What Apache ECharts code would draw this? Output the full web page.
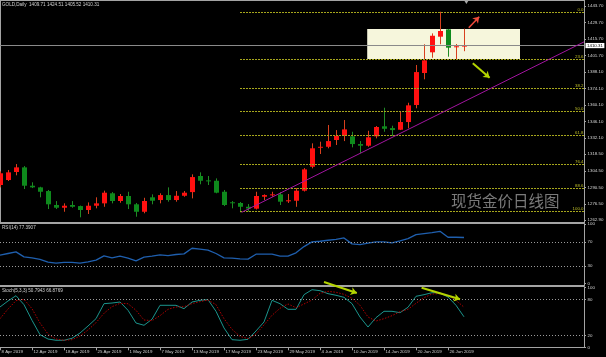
<!DOCTYPE html>
<html><head><meta charset="utf-8">
<script src="https://cdn.jsdelivr.net/npm/echarts@6/dist/echarts.min.js"></script>
<style>html,body{margin:0;padding:0;background:#000;}#c{width:606px;height:357px;}</style>
</head><body><div id="c"></div>
<script>
const dates = ['8 Apr 2019','9 Apr 2019','10 Apr 2019','11 Apr 2019','12 Apr 2019','15 Apr 2019','16 Apr 2019','17 Apr 2019','18 Apr 2019','22 Apr 2019','23 Apr 2019','24 Apr 2019','25 Apr 2019','26 Apr 2019','29 Apr 2019','30 Apr 2019','1 May 2019','2 May 2019','3 May 2019','6 May 2019','7 May 2019','8 May 2019','9 May 2019','10 May 2019','13 May 2019','14 May 2019','15 May 2019','16 May 2019','17 May 2019','20 May 2019','21 May 2019','22 May 2019','23 May 2019','24 May 2019','27 May 2019','28 May 2019','29 May 2019','30 May 2019','31 May 2019','3 Jun 2019','4 Jun 2019','5 Jun 2019','6 Jun 2019','7 Jun 2019','10 Jun 2019','11 Jun 2019','12 Jun 2019','13 Jun 2019','14 Jun 2019','17 Jun 2019','18 Jun 2019','19 Jun 2019','20 Jun 2019','21 Jun 2019','24 Jun 2019','25 Jun 2019','26 Jun 2019','27 Jun 2019','28 Jun 2019'];
const opens  = [1292.5,1296.7,1303.5,1307.4,1291.9,1290.5,1287.4,1275.6,1273.3,1275.6,1274.7,1271.4,1275.0,1277.0,1285.5,1279.0,1283.2,1276.2,1269.9,1282.1,1279.8,1284.0,1279.8,1283.4,1286.5,1300.1,1296.4,1296.1,1286.8,1277.9,1277.3,1274.1,1272.5,1282.6,1284.0,1284.6,1278.7,1279.2,1287.7,1307.9,1324.2,1324.8,1330.5,1334.7,1333.6,1327.1,1325.7,1333.6,1342.1,1340.6,1339.2,1345.7,1360.1,1387.1,1404.6,1417.8,1424.0,1409.6,1409.71];
const closes = [1302.4,1303.2,1307.4,1291.9,1290.5,1286.8,1276.2,1273.3,1275.0,1274.1,1271.4,1275.0,1277.0,1286.0,1279.0,1283.2,1276.2,1269.9,1279.0,1279.2,1284.0,1279.8,1283.4,1286.0,1299.2,1296.1,1296.1,1286.0,1275.6,1277.3,1274.1,1272.6,1283.2,1284.0,1284.6,1278.4,1279.6,1287.7,1305.7,1323.5,1324.8,1329.6,1334.1,1339.5,1327.1,1325.7,1332.8,1341.5,1340.0,1338.9,1345.7,1359.8,1387.9,1397.8,1418.6,1422.6,1408.5,1409.7,1410.31];
const lows   = [1290.5,1295.9,1300.7,1289.1,1289.9,1282.1,1272.2,1272.2,1269.9,1273.3,1265.2,1268.0,1272.8,1274.1,1277.0,1277.5,1272.2,1265.7,1268.6,1276.2,1277.0,1278.4,1278.4,1282.6,1281.2,1293.1,1292.5,1285.5,1274.7,1272.8,1269.4,1270.1,1271.8,1279.8,1282.6,1275.6,1277.3,1274.1,1287.0,1306.6,1318.7,1323.5,1326.3,1329.6,1324.3,1319.3,1324.8,1331.9,1337.5,1333.9,1338.9,1340.4,1357.3,1381.8,1400.0,1411.4,1400.9,1398.7,1405.52];
const highs  = [1304.0,1305.2,1310.2,1308.5,1294.8,1291.0,1288.3,1278.9,1277.0,1278.9,1275.1,1277.8,1282.1,1287.7,1286.5,1284.9,1286.8,1277.3,1281.7,1284.6,1285.5,1290.5,1287.4,1287.4,1301.5,1303.2,1300.1,1298.1,1288.3,1278.9,1278.1,1276.4,1286.8,1284.6,1286.8,1286.5,1284.9,1289.9,1306.8,1327.7,1329.1,1343.2,1338.9,1347.4,1337.5,1329.6,1338.3,1342.3,1357.8,1342.6,1354.4,1362.0,1393.9,1411.4,1420.6,1438.9,1424.3,1411.6,1424.51];
const rsi = [47.8,50.6,53.3,45,43.3,40.6,36.1,34.4,35.6,35.6,34.4,36.7,39.4,46.7,43.3,46.1,42.8,38.3,44.4,46.1,48.3,47.2,48.9,50,59.4,57.8,56.1,50.6,43.3,42.8,41.7,41.1,49.4,49.4,49.4,46.1,46.1,51.7,62.2,70,71.1,72.8,74.4,76.7,66.7,65.6,67.8,70,70,68.3,71.7,75.6,82.2,83.9,85.6,87.8,77.8,77.8,77.39];
const stochK = [67.2,77.2,86,71,45,21,13.8,11.7,11.7,15,23.8,35.5,47.7,72.7,73.8,75.5,61.7,40.5,36.7,46.7,70,70,70,64.4,75.5,78.3,79.4,60,32.2,12.7,11.7,13.3,27.2,42.2,78.3,72.7,63.3,63.3,87.7,96,94.4,89.4,86.7,83.3,72.7,50.5,33.8,49.4,60,60,57.7,66.7,85,87.7,91,90.5,83.8,70,50.79];
const stochD = [47.7,63.8,77.7,80,64.4,40.5,22.2,13.8,11.7,12.7,18.8,28.8,41,56.7,67.7,73.3,72.7,61.7,45.5,44.4,52.7,63.3,67.2,67.7,72.7,76.1,78.8,71.1,47.7,30,18.3,14.4,22.2,37.2,53.3,65,72.2,66,72.2,78.8,90,93.3,91.7,88.3,81.7,70,50.5,43.8,47.7,52.7,59.4,63.3,73.3,82.7,88.8,89.4,86.7,78.3,66.88];
const priceTicks = [1262.90,1276.50,1290.50,1304.50,1318.50,1332.10,1346.10,1360.10,1374.10,1388.10,1401.70,1415.70,1429.70,1443.70];
const rsiTicks = [0,30,70,100];
const rsiLevels = [30,70];
const stochTicks = [0,20,80,100];
const stochLevels = [20,80];
const fibRatios = [0,23.6,38.2,50,61.8,76.4,88.6,100];
const fibHigh = 1438.6, fibLow = 1270.5, fibStartBar = 30;
const lastPrice = 1410.31;
const trendLine = [[30.2,1269.4],[73,1413.4]];
const zoneBox = [[45.9,1398.9],[65,1424.3]];
const upArrow = [[58.6,1425.4],[59.9,1434.7]];
const downArrow = [[59.1,1395.3],[61.2,1383.1]];
const stochArrows = [[[40.5,108.8],[44.6,90.5]],[[52.7,99.3],[57.5,80]]];
const shiftMark = [58.3];
const titleText = 'GOLD,Daily  1409.71 1424.51 1405.52 1410.31';
const rsiText = 'RSI(14) 77.3907';
const stochText = 'Stoch(5,3,3) 50.7943 66.8769';
const watermark = '现货金价日线图';

const X_MAX = 73, PRICE_MIN = 1260.4, PRICE_MAX = 1448.8;
const STOCH_TOP = 287.3, STOCH_H = 60, LOWER_TOP = 224;
const FONT = 'Liberation Sans';
const AX = '#a4a4a4', TXT = '#d2d2d2';
const candles = opens.map((o,i)=>[i,o,closes[i],lows[i],highs[i]]);
const labelIdx = dates.map((d,i)=>i).filter(i=>i%4===0);
// overlay axis spanning RSI+Stoch panels, in stochastic units
const overlayMax = 100 + (STOCH_TOP-LOWER_TOP)/STOCH_H*100;

const chart = echarts.init(document.getElementById('c'), null, {renderer:'canvas'});

function xAx(grid, extra){
  return Object.assign({type:'value',gridIndex:grid,min:0,max:X_MAX,splitLine:{show:false},
    axisTick:{show:false},axisLabel:{show:false},
    axisLine:{show:true,onZero:false,lineStyle:{color:AX,width:2}}}, extra||{});
}
function yAx(grid,min,max,ticks,fmt,extra){
  return Object.assign({type:'value',gridIndex:grid,position:'right',min:min,max:max,scale:true,splitLine:{show:false},
    axisLine:{show:true,onZero:false,lineStyle:{color:AX,width:1}},
    axisTick:{show:true,length:2,customValues:ticks,lineStyle:{color:AX}},
    axisLabel:{show:true,customValues:ticks,formatter:fmt,fontSize:4.4,fontFamily:FONT,color:TXT,margin:3.5}}, extra||{});
}

const fibData = fibRatios.map(r=>{
  const v = fibHigh - r/100*(fibHigh-fibLow);
  return [{coord:[fibStartBar,v],name:r.toFixed(1)},{coord:[X_MAX,v]}];
});

const option = {
  backgroundColor:'#000',
  animation:false,
  title:[
    {text:titleText,left:2,top:2.5,padding:0,textStyle:{fontSize:4.6,fontFamily:FONT,color:TXT,fontWeight:'normal'}},
    {text:rsiText,left:2,top:225,padding:0,textStyle:{fontSize:4.6,fontFamily:FONT,color:TXT,fontWeight:'normal'}},
    {text:stochText,left:2,top:288.3,padding:0,textStyle:{fontSize:4.6,fontFamily:FONT,color:TXT,fontWeight:'normal'}}
  ],
  graphic:[{type:'text',left:451,top:193,z:0,style:{text:watermark,fontSize:15.5,fontFamily:'Noto Sans CJK SC',fill:'#7a7a7a'}}],
  grid:[
    {left:0,top:0,width:584,height:223,containLabel:false,outerBoundsMode:'none'},
    {left:0,top:LOWER_TOP,width:584,height:61.5,containLabel:false,outerBoundsMode:'none'},
    {left:0,top:STOCH_TOP,width:584,height:STOCH_H,containLabel:false,outerBoundsMode:'none'},
    {left:0,top:LOWER_TOP,width:584,height:STOCH_TOP+STOCH_H-LOWER_TOP,containLabel:false,outerBoundsMode:'none'}
  ],
  xAxis:[
    xAx(0),
    xAx(1),
    xAx(2,{axisLine:{show:true,onZero:false,lineStyle:{color:AX,width:1}},
      axisTick:{show:true,length:3,customValues:labelIdx,lineStyle:{color:AX}},
      axisLabel:{show:true,customValues:labelIdx,formatter:v=>dates[Math.round(v)]||'',align:'left',
        padding:[0,0,0,1.5],margin:2.5,fontSize:4.4,fontFamily:FONT,color:TXT}}),
    xAx(0,{position:'top',axisLine:{show:true,onZero:false,lineStyle:{color:AX,width:1}}}),
    xAx(3,{show:false})
  ],
  yAxis:[
    yAx(0,PRICE_MIN,PRICE_MAX,priceTicks,v=>v.toFixed(2)),
    yAx(1,-3,100,rsiTicks,v=>String(v)),
    yAx(2,0,100,stochTicks,v=>String(v)),
    {type:'value',gridIndex:0,position:'left',min:PRICE_MIN,max:PRICE_MAX,splitLine:{show:false},
      axisTick:{show:false},axisLabel:{show:false},axisLine:{show:true,onZero:false,lineStyle:{color:AX,width:1}}},
    {type:'value',gridIndex:3,show:false,min:0,max:overlayMax,splitLine:{show:false}}
  ],
  series:[
    {type:'line',name:'zone',xAxisIndex:0,yAxisIndex:0,data:[],z:1,silent:true,
      markArea:{silent:true,itemStyle:{color:'#f6f6dc',opacity:1},
        data:[[{coord:zoneBox[0]},{coord:zoneBox[1]}]]}},
    {type:'custom',name:'GOLD',xAxisIndex:0,yAxisIndex:0,z:3,data:candles,
      encode:{x:0,y:[1,2,3,4]},
      renderItem:function(params,api){
        const x=api.value(0),o=api.value(1),c=api.value(2),l=api.value(3),h=api.value(4);
        const pO=api.coord([x,o]),pC=api.coord([x,c]),pL=api.coord([x,l]),pH=api.coord([x,h]);
        const bull=c>=o;
        const cx=Math.round(pO[0]);
        const top=Math.min(pO[1],pC[1]),bot=Math.max(pO[1],pC[1]);
        const bh=Math.max(bot-top,1);
        return {type:'group',children:[
          {type:'line',shape:{x1:cx+0.5,y1:pH[1],x2:cx+0.5,y2:pL[1]},style:{stroke:bull?'#d8401e':'#1f8a25',lineWidth:1}},
          {type:'rect',shape:{x:cx-2,y:top,width:5,height:bh},style:{fill:bull?'#ff1010':'#0e8a1c'}}
        ]};
      },
      markLine:{silent:true,symbol:['none','none'],
        lineStyle:{color:'#a6a61c',type:[2,1],width:1},
        label:{show:true,position:'insideEndTop',formatter:p=>p.name,color:'#bcbc28',fontSize:4.4,fontFamily:FONT,distance:0.5},
        data:fibData.concat([
          {yAxis:lastPrice,name:lastPrice.toFixed(2),lineStyle:{color:'#8a8a8a',type:'solid',width:1},
            label:{show:true,position:'end',formatter:p=>p.name,backgroundColor:'#fff',color:'#000',fontSize:4.4,fontFamily:FONT,padding:[0.6,1.5],distance:1.5}}
        ])},
      markPoint:{silent:true,symbol:'triangle',symbolRotate:180,symbolSize:[5,4],symbolOffset:[0,2],
        itemStyle:{color:'#a8a8a8'},label:{show:false},
        data:shiftMark.map(b=>({coord:[b,PRICE_MAX]}))}
    },
    {type:'line',name:'trend',xAxisIndex:0,yAxisIndex:0,data:[],z:5,clip:false,silent:true,
      markLine:{silent:true,symbol:['none','none'],label:{show:false},
        lineStyle:{color:'#a314a0',type:'solid',width:1},
        data:[[{coord:trendLine[0]},{coord:trendLine[1]}]]}},
    {type:'line',name:'up',xAxisIndex:0,yAxisIndex:0,data:[],z:6,clip:false,silent:true,
      markLine:{silent:true,symbol:['none','arrow'],symbolSize:6,label:{show:false},
        lineStyle:{color:'#ef4b3c',type:'solid',width:1.6},
        data:[[{coord:upArrow[0]},{coord:upArrow[1]}]]}},
    {type:'line',name:'down',xAxisIndex:0,yAxisIndex:0,data:[],z:6,clip:false,silent:true,
      markLine:{silent:true,symbol:['none','arrow'],symbolSize:6,label:{show:false},
        lineStyle:{color:'#b4d400',type:'solid',width:2},
        data:[[{coord:downArrow[0]},{coord:downArrow[1]}]]}},
    {type:'line',name:'RSI',xAxisIndex:1,yAxisIndex:1,data:rsi.map((v,i)=>[i,v]),z:3,symbol:'none',
      lineStyle:{color:'#1f5fae',width:1.3},
      markLine:{silent:true,symbol:['none','none'],label:{show:false},
        lineStyle:{color:'#9a9a9a',type:[1,2],width:1},
        data:rsiLevels.map(v=>({yAxis:v}))}},
    {type:'line',name:'K',xAxisIndex:2,yAxisIndex:2,data:stochK.map((v,i)=>[i,v]),z:3,symbol:'none',
      lineStyle:{color:'#1b948c',width:1},
      markLine:{silent:true,symbol:['none','none'],label:{show:false},
        lineStyle:{color:'#9a9a9a',type:[1,2],width:1},
        data:stochLevels.map(v=>({yAxis:v}))}},
    {type:'line',name:'D',xAxisIndex:2,yAxisIndex:2,data:stochD.map((v,i)=>[i,v]),z:3,symbol:'none',
      lineStyle:{color:'#b00000',width:1,type:[1.5,1.5]}},
    {type:'line',name:'stochArrows',xAxisIndex:4,yAxisIndex:4,data:[],z:6,clip:false,silent:true,
      markLine:{silent:true,symbol:['none','arrow'],symbolSize:6,label:{show:false},
        lineStyle:{color:'#b4d400',type:'solid',width:2},
        data:stochArrows.map(a=>[{coord:a[0]},{coord:a[1]}])}}
  ]
};
chart.setOption(option);
</script>
</body></html>
